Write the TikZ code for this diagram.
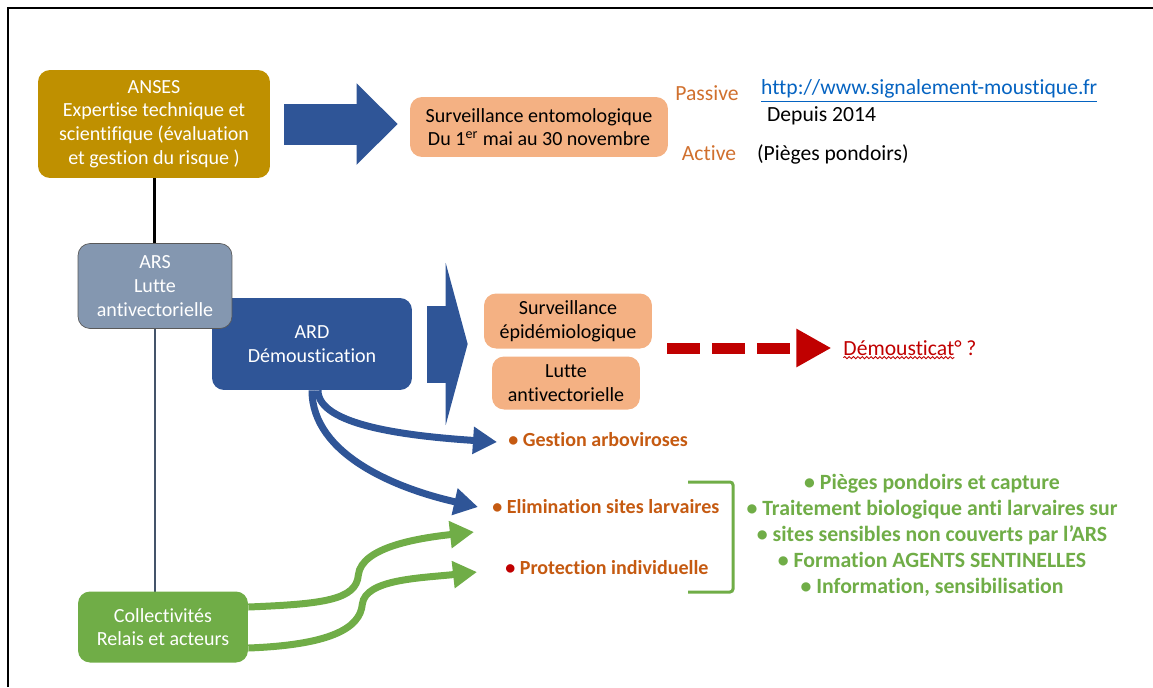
\documentclass[tikz,border=0pt]{standalone}
\usepackage{fontspec}
\setmainfont{Carlito}[Ligatures=NoCommon]
\usepackage{tikz}
\usetikzlibrary{shapes,positioning,calc,arrows.meta,decorations.pathmorphing}
\usepackage{xcolor}
\definecolor{ansesgold}{HTML}{BF9000}
\definecolor{salmon}{HTML}{F4B183}
\definecolor{arsgrey}{HTML}{8497B0}
\definecolor{ardblue}{HTML}{2F5597}
\definecolor{colgreen}{HTML}{70AD47}
\definecolor{txtorange}{HTML}{C55A11}
\definecolor{lightorange}{HTML}{D0702E}
\definecolor{darkred}{HTML}{C00000}
\definecolor{linkblue}{HTML}{0563C1}
\definecolor{slate}{HTML}{44546A}

\begin{document}
\begin{tikzpicture}[x=0.02cm,y=-0.02cm,
	box/.style={rounded corners=0.24cm,align=center,text=white,font=\fontsize{11.4}{13.5}\selectfont,inner sep=0pt},
	peach/.style={box,fill=salmon,text=black},
	txt/.style={font=\fontsize{12.3}{14}\selectfont,inner sep=1pt},
	orangeitem/.style={font=\fontsize{11.4}{13.5}\selectfont\bfseries,text=txtorange,inner sep=0pt},
	bendarrow/.style={line width=0.14cm,-{Triangle[length=0.48cm,width=0.52cm]}}]
	\useasboundingbox (0,0) rectangle (1153,687);
	\draw[line width=0.04cm] (8,687) -- (8,8) -- (1153,8);

	\node[box,fill=ansesgold,minimum width=4.64cm,minimum height=2.16cm] (anses) at (154,124) {ANSES\\Expertise technique et\\scientifique (évaluation\\et gestion du risque )};
	\node[peach,minimum width=5.16cm,minimum height=1.2cm] (ento) at (539,127) {Surveillance entomologique\\Du 1\textsuperscript{er} mai au 30 novembre};
	\node[txt,text=lightorange] (passive) at (707,93) {Passive};
	\node[txt,text=lightorange] (active) at (709,153) {Active};
	\node[txt,text=linkblue,anchor=west] (url) at (759,91) {\underline{http://www.signalement-moustique.fr}};
	\node[txt,anchor=west] (depuis) at (765,116) {Depuis 2014};
	\node[txt,anchor=west] (pieges) at (755,154) {(Pièges pondoirs)};

	\node[box,fill=ardblue,minimum width=4cm,minimum height=1.84cm] (ard) at (312,344) {ARD\\Démoustication};
	\draw[line width=0.06cm] (anses.south) -- (anses.south |- 0,244);
	\draw[line width=0.05cm,slate] (155,329) -- (155,592);
	\node[box,fill=arsgrey,draw=gray!70!black,minimum width=3.08cm,minimum height=1.7cm] (ars) at (155,286) {ARS\\Lutte\\antivectorielle};
	\node[peach,minimum width=3.36cm,minimum height=1.1cm] (epid) at (568,321) {Surveillance\\épidémiologique};
	\node[peach,minimum width=2.96cm,minimum height=1.06cm] (lutte) at (566,383) {Lutte\\antivectorielle};
	\node[txt,text=darkred] (demou) at (910,348) {Démousticat° ?};

	\node[orangeitem,anchor=west] (gestion) at (508,440) {\textbullet\ Gestion arboviroses};
	\node[orangeitem,anchor=west] (elim) at (492,507) {\textbullet\ Elimination sites larvaires};
	\node[orangeitem,anchor=west] (prot) at (505,568) {{\color{darkred}\textbullet}\ Protection individuelle};
	\node[txt,font=\fontsize{12.4}{14.8}\selectfont\bfseries,text=colgreen,align=center] (actions) at (932,535) {\textbullet\ Pièges pondoirs et capture\\\textbullet\ Traitement biologique anti larvaires sur\\\textbullet\ sites sensibles non couverts par l’ARS\\\textbullet\ Formation AGENTS SENTINELLES\\\textbullet\ Information, sensibilisation};
	\node[box,fill=colgreen,minimum width=3.4cm,minimum height=1.42cm] (coll) at (163,627) {Collectivités\\Relais et acteurs};

	\draw[ardblue,line width=0.82cm,-{Triangle[length=0.82cm,width=1.58cm]},shorten <=0.28cm,shorten >=0.24cm] (anses.east) -- (anses.east -| ento.west);
	\draw[ardblue,line width=1.54cm,-{Triangle[length=0.44cm,width=3.24cm]},shorten <=0.3cm,shorten >=0.32cm] (ard.east) -- (ard.east -| epid.west);
	\coordinate (redstart) at (667,348);
	\draw[darkred,line width=0.22cm,dash pattern=on 0.66cm off 0.24cm,-{Triangle[length=0.7cm,width=0.72cm]},shorten >=0.2cm] (redstart) -- (demou.west);
	\draw[darkred,line width=0.5pt,decorate,decoration={snake,amplitude=0.6pt,segment length=2.5pt}] ($(demou.south west)+(2,0)$) -- ($(demou.south west)+(113,0)$);

	\draw[ardblue,bendarrow] ($(ard.south)+(6,0)$) .. controls +(0,35) and +(-90,-6) .. ($(gestion.west)+(-11,2)$);
	\draw[ardblue,bendarrow] (ard.south) .. controls +(0,65) and +(-80,-18) .. ($(elim.west)+(-14,0)$);

	\coordinate (g1end) at ($(elim.west)+(-18,25)$);
	\coordinate (g2end) at ($(prot.west)+(-28,4)$);
	\draw[colgreen,bendarrow] ($(coll.east)+(0,-20)$) .. controls +(75,-3) and +(-2,25) .. ($(coll.east)+(110,-52)$) .. controls +(3,-28) and +(-55,6) .. (g1end);
	\draw[colgreen,bendarrow] ($(coll.east)+(0,21)$) .. controls +(80,-3) and +(-2,25) .. ($(coll.east)+(114,-23)$) .. controls +(3,-25) and +(-55,6) .. (g2end);
	\draw[colgreen,line width=0.06cm,rounded corners=0.06cm] (688,482) -- (733,482) -- (733,592) -- (688,592);
\end{tikzpicture}
\end{document}
